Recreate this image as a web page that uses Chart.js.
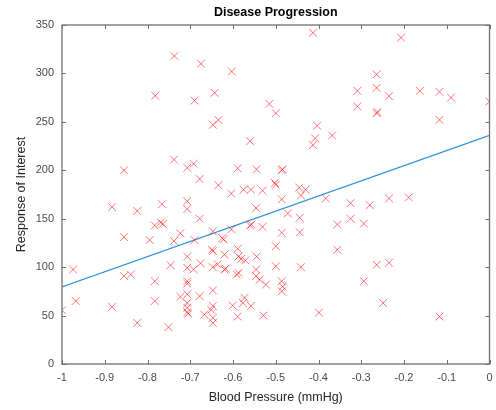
<!DOCTYPE html>
<html>
<head>
<meta charset="utf-8">
<script src="https://cdn.jsdelivr.net/npm/chart.js@4.4.1/dist/chart.umd.min.js"></script>
<style>
  html, body { margin: 0; padding: 0; background: #fff; }
  #wrap { width: 496px; height: 410px; position: relative; }
</style>
</head>
<body>
<div id="wrap"><canvas id="chart"></canvas></div>
<script>
'use strict';

// ---------------------------------------------------------------------------
// Data
// ---------------------------------------------------------------------------

const bloodPressure = [
  -0.737, -0.675, -0.782, -0.690, -0.738, -0.855, -0.707, -0.692, -0.678, -0.603,
  -0.643, -0.515, -0.500, -0.647, -0.634, -0.413, -0.403, -0.408, -0.413, -0.368,
  -0.560, -0.589, -0.545, -0.486, -0.484, -0.207, -0.264, -0.309, -0.264, -0.235,
  -0.163, -0.117, -0.090,  0.000, -0.309, -0.264, -0.262, -0.117,
  -0.634, -0.604, -0.575, -0.558, -0.531, -0.500, -0.502, -0.445, -0.430, -0.441,
  -0.383, -0.235, -0.189, -0.486, -0.325, -0.280,
  -0.883, -0.824, -0.766, -0.707, -0.707, -0.678, -0.546, -0.472, -0.444, -0.325,
  -0.294, -0.356, -0.783, -0.769, -0.764, -0.560, -0.557, -0.531,
  -0.855, -0.795, -0.723, -0.738, -0.690, -0.647, -0.604, -0.622, -0.625, -0.486,
  -0.444, -0.500,
  -0.707, -0.356, -0.647, -0.649, -0.589, -0.620, -0.587, -0.581, -0.571, -0.545,
  -0.746, -0.676, -0.636, -0.500, -0.441, -0.264, -0.235,
  -0.974, -0.707, -0.692, -0.647, -0.620, -0.617, -0.591, -0.587, -0.546, -0.855,
  -0.839, -0.783, -0.707, -0.707, -0.546, -0.538, -0.523, -0.486, -0.484, -0.294,
  -0.486, -0.647, -0.678, -0.968, -0.783, -0.723, -0.707, -0.707, -0.707, -0.707,
  -0.705, -1.000, -0.883, -0.824, -0.751, -0.667, -0.647, -0.651, -0.647, -0.647,
  -0.601, -0.573, -0.577, -0.558, -0.589, -0.529, -0.399, -0.249, -0.117,
];

const response = [
  318, 310, 277, 272, 211, 200, 202.5, 206.7, 191, 302,
  280, 268.6, 259, 247, 252, 342, 246, 233, 226, 236,
  230, 202, 201, 200, 201, 337, 299, 282, 285, 276.5,
  282, 281, 275, 271, 266, 259, 260, 252,
  184.6, 176, 180, 180, 179, 185, 187, 182, 180, 174,
  171, 171, 172, 170, 166, 164,
  162, 158, 165, 168, 160, 150, 161, 155.5, 151, 150,
  145, 144, 143, 146, 144.7, 143, 144, 141.6,
  131, 128, 135, 127, 128, 137, 139, 128.5, 130, 135.5,
  136, 121.6,
  111, 118, 116.5, 118, 119, 113, 111, 108.6, 107, 111,
  102, 104, 103, 101, 100, 102.4, 104.5,
  97.6, 99.3, 97.6, 100, 97.6, 98.5, 92.4, 94, 97.6, 90.7,
  92.4, 85.5, 85.5, 83, 90.7, 87, 82, 85.5, 80, 85.5,
  75, 76, 70, 65, 65, 69.4, 72, 63, 58, 53.5,
  52, 55.5, 59, 42.5, 38, 51, 60, 56, 47.7, 42.5,
  60.4, 68.3, 63, 60, 49, 50, 53, 63, 49,
];

// Least-squares fit line end points
const fitX = [-1, 0];
const fitY = [79.5, 236];

const xTicks = [-1, -0.9, -0.8, -0.7, -0.6, -0.5, -0.4, -0.3, -0.2, -0.1, 0];
const yTicks = [0, 50, 100, 150, 200, 250, 300, 350];

// ---------------------------------------------------------------------------
// Helpers
// ---------------------------------------------------------------------------

const FONT = '"Liberation Sans", Arial, Helvetica, sans-serif';
const AXIS_COLOR = '#707070';

function fmtTick(v) {
  const r = Math.round(v * 10) / 10;
  return r === 0 ? '0' : String(r);
}

// MATLAB-style frame: box on all four sides with inward ticks, title over the plot area
const framePlugin = {
  id: 'frame',
  afterDraw(chart) {
    const { ctx, chartArea: a, scales } = chart;
    ctx.save();
    ctx.strokeStyle = AXIS_COLOR;
    ctx.lineWidth = 1.3;
    ctx.strokeRect(a.left, a.top, a.right - a.left, a.bottom - a.top);

    const len = 4;
    ctx.beginPath();
    xTicks.forEach(v => {
      const px = Math.round(scales.x.getPixelForValue(v)) + 0.5;
      ctx.moveTo(px, a.bottom); ctx.lineTo(px, a.bottom - len);
      ctx.moveTo(px, a.top);    ctx.lineTo(px, a.top + len);
    });
    yTicks.forEach(v => {
      const py = Math.round(scales.y.getPixelForValue(v)) + 0.5;
      ctx.moveTo(a.left, py);  ctx.lineTo(a.left + len, py);
      ctx.moveTo(a.right, py); ctx.lineTo(a.right - len, py);
    });
    ctx.lineWidth = 1;
    ctx.stroke();

    ctx.fillStyle = '#000';
    ctx.font = `bold 12.5px ${FONT}`;
    ctx.textAlign = 'center';
    ctx.textBaseline = 'middle';
    ctx.fillText('Disease Progression', (a.left + a.right) / 2, 13);
    ctx.restore();
  },
};

// ---------------------------------------------------------------------------
// Chart
// ---------------------------------------------------------------------------

const scatterPoints = bloodPressure.map((x, i) => ({ x, y: response[i] }));
const fitPoints     = fitX.map((x, i) => ({ x, y: fitY[i] }));

new Chart(document.getElementById('chart'), {
  type: 'scatter',
  data: {
    datasets: [
      {
        label: 'Data',
        data: scatterPoints,
        pointStyle: 'crossRot',
        pointRadius: 5.5,
        pointBorderWidth: 1,
        borderColor: 'rgba(255,0,0,0.55)',
        backgroundColor: 'rgba(255,0,0,0.55)',
      },
      {
        label: 'Fit',
        type: 'line',
        data: fitPoints,
        borderColor: '#3497da',
        borderWidth: 1.3,
        pointRadius: 0,
        fill: false,
      },
    ],
  },
  options: {
    responsive: true,
    maintainAspectRatio: false,
    animation: false,
    layout: { padding: { left: 0, right: 5, top: 25, bottom: 0 } },
    plugins: {
      legend:  { display: false },
      tooltip: { enabled: false },
      title:   { display: false },
    },
    scales: {
      x: {
        type: 'linear',
        min: -1,
        max: 0,
        afterBuildTicks: s => { s.ticks = xTicks.map(v => ({ value: v })); },
        afterFit: s => { s.height = 46; },
        // grid hidden; tickLength only used as the gap between axis and labels
        grid:   { display: false, drawTicks: true, tickLength: 7 },
        border: { display: false },
        ticks: {
          color: '#4a4a4a',
          font: { family: FONT, size: 11 },
          padding: 0,
          maxRotation: 0,
          autoSkip: false,
          callback: v => fmtTick(v),
        },
        title: {
          display: true,
          text: 'Blood Pressure (mmHg)',
          color: '#262626',
          font: { family: FONT, size: 12.5 },
          padding: { top: 0, bottom: 5 },
        },
      },
      y: {
        type: 'linear',
        min: 0,
        max: 350,
        afterBuildTicks: s => { s.ticks = yTicks.map(v => ({ value: v })); },
        afterFit: s => { s.width = 62; },
        grid:   { display: false, drawTicks: false },
        border: { display: false },
        ticks: {
          color: '#4a4a4a',
          font: { family: FONT, size: 11 },
          padding: 8,
          autoSkip: false,
          callback: v => String(v),
        },
        title: {
          display: true,
          text: 'Response of Interest',
          color: '#262626',
          font: { family: FONT, size: 12.5 },
          padding: { top: 14, bottom: 0 },
        },
      },
    },
  },
  plugins: [framePlugin],
});
</script>
</body>
</html>
